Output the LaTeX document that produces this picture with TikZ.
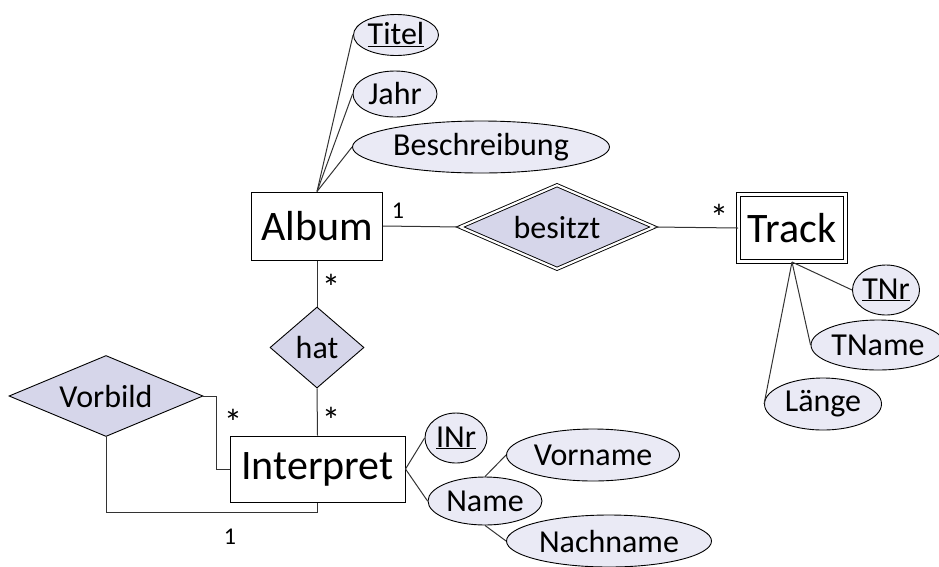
\documentclass[tikz,border=0pt]{standalone}
\usepackage{fontspec}
\setmainfont{Carlito}
\usetikzlibrary{shapes.geometric}
\definecolor{attrfill}{HTML}{EAEAF5}
\definecolor{relfill}{HTML}{D6D6EA}
\definecolor{linec}{HTML}{333333}
\tikzset{
  entity/.style={draw=black, fill=white, inner sep=0pt, line width=1pt, font=\fontsize{42}{44}\selectfont},
  weakent/.style={entity, double, double distance=2.2pt, line width=1pt},
  rel/.style={diamond, draw=black, fill=relfill, inner sep=0pt, line width=0.9pt, font=\fontsize{32}{34}\selectfont},
  weakrel/.style={rel, double, double distance=2.2pt},
  attr/.style={ellipse, draw=black, fill=attrfill, inner sep=0pt, line width=0.9pt, font=\fontsize{32}{34}\selectfont},
  conn/.style={draw=linec, line width=1pt},
  card/.style={inner sep=0pt, font=\fontsize{24}{26}\selectfont},
  star/.style={inner sep=0pt, font=\fontsize{37}{39}\selectfont}
}
\begin{document}
\begin{tikzpicture}[x=1pt,y=-1pt]
\useasboundingbox (0,0) rectangle (939,566);
% entities
\node[entity, minimum width=131, minimum height=68] (album) at (317,226) {Album};
\node[weakent, minimum width=107, minimum height=67] (track) at (792,228) {Track};
\node[entity, minimum width=175, minimum height=66] (interpret) at (317.5,469) {Interpret};
% relationships
\node[weakrel, aspect=2.3, minimum width=194, minimum height=84] (besitzt) at (557,227) {besitzt};
\node[rel, aspect=1.16, minimum width=94, minimum height=81] (hat) at (317,347.5) {hat};
\node[rel, aspect=2.4, minimum width=194, minimum height=81] (vorbild) at (106,396) {Vorbild};
% attributes
\node[attr, minimum width=85, minimum height=41] (titel) at (396,35) {\underline{Titel}};
\node[attr, minimum width=84, minimum height=46] (jahr) at (395,94) {Jahr};
\node[attr, minimum width=257, minimum height=52] (beschr) at (481,147) {Beschreibung};
\node[attr, minimum width=62, minimum height=50] (tnr) at (886,290) {\underline{TNr}};
\node[attr, minimum width=134, minimum height=50] (tname) at (878,345) {TName};
\node[attr, minimum width=117, minimum height=52] (laenge) at (823,404) {Länge};
\node[attr, minimum width=62, minimum height=50] (inr) at (456,438) {\underline{INr}};
\node[attr, minimum width=114, minimum height=48] (name) at (485,501) {Name};
\node[attr, minimum width=173, minimum height=52] (vorname) at (593,455) {Vorname};
\node[attr, minimum width=205, minimum height=52] (nachname) at (609,541) {Nachname};
% connectors
\draw[conn] (album.north) -- (titel.west);
\draw[conn] (album.north) -- (jahr.west);
\draw[conn] (album.north) -- (beschr.west);
\draw[conn] (album.east) -- (besitzt.west);
\draw[conn] (besitzt.east) -- (track.west);
\draw[conn] (track.south) -- (tnr.west);
\draw[conn] (track.south) -- (tname.west);
\draw[conn] (track.south) -- (laenge.west);
\draw[conn] (album.south) -- (hat.north);
\draw[conn] (hat.south) -- (interpret.north);
\coordinate (vb1) at (216,396);
\coordinate (vb2) at (106,512);
\draw[conn] (vorbild.east) -- (vb1) |- (interpret.west);
\draw[conn] (vorbild.south) -- (vb2) -| (interpret.south);
\draw[conn] (interpret.east) -- (inr.west);
\draw[conn] (interpret.east) -- (name.west);
\draw[conn] (name.north) -- (vorname.west);
\draw[conn] (name.south) -- (nachname.west);
% cardinalities
\node[card] (c1) at (398,211) {1};
\node[star] (c2) at (719,217) {*};
\node[star] (c3) at (331,287) {*};
\node[star] (c4) at (331,420) {*};
\node[star] (c5) at (233,422) {*};
\node[card] (c6) at (230,537) {1};
\end{tikzpicture}
\end{document}
